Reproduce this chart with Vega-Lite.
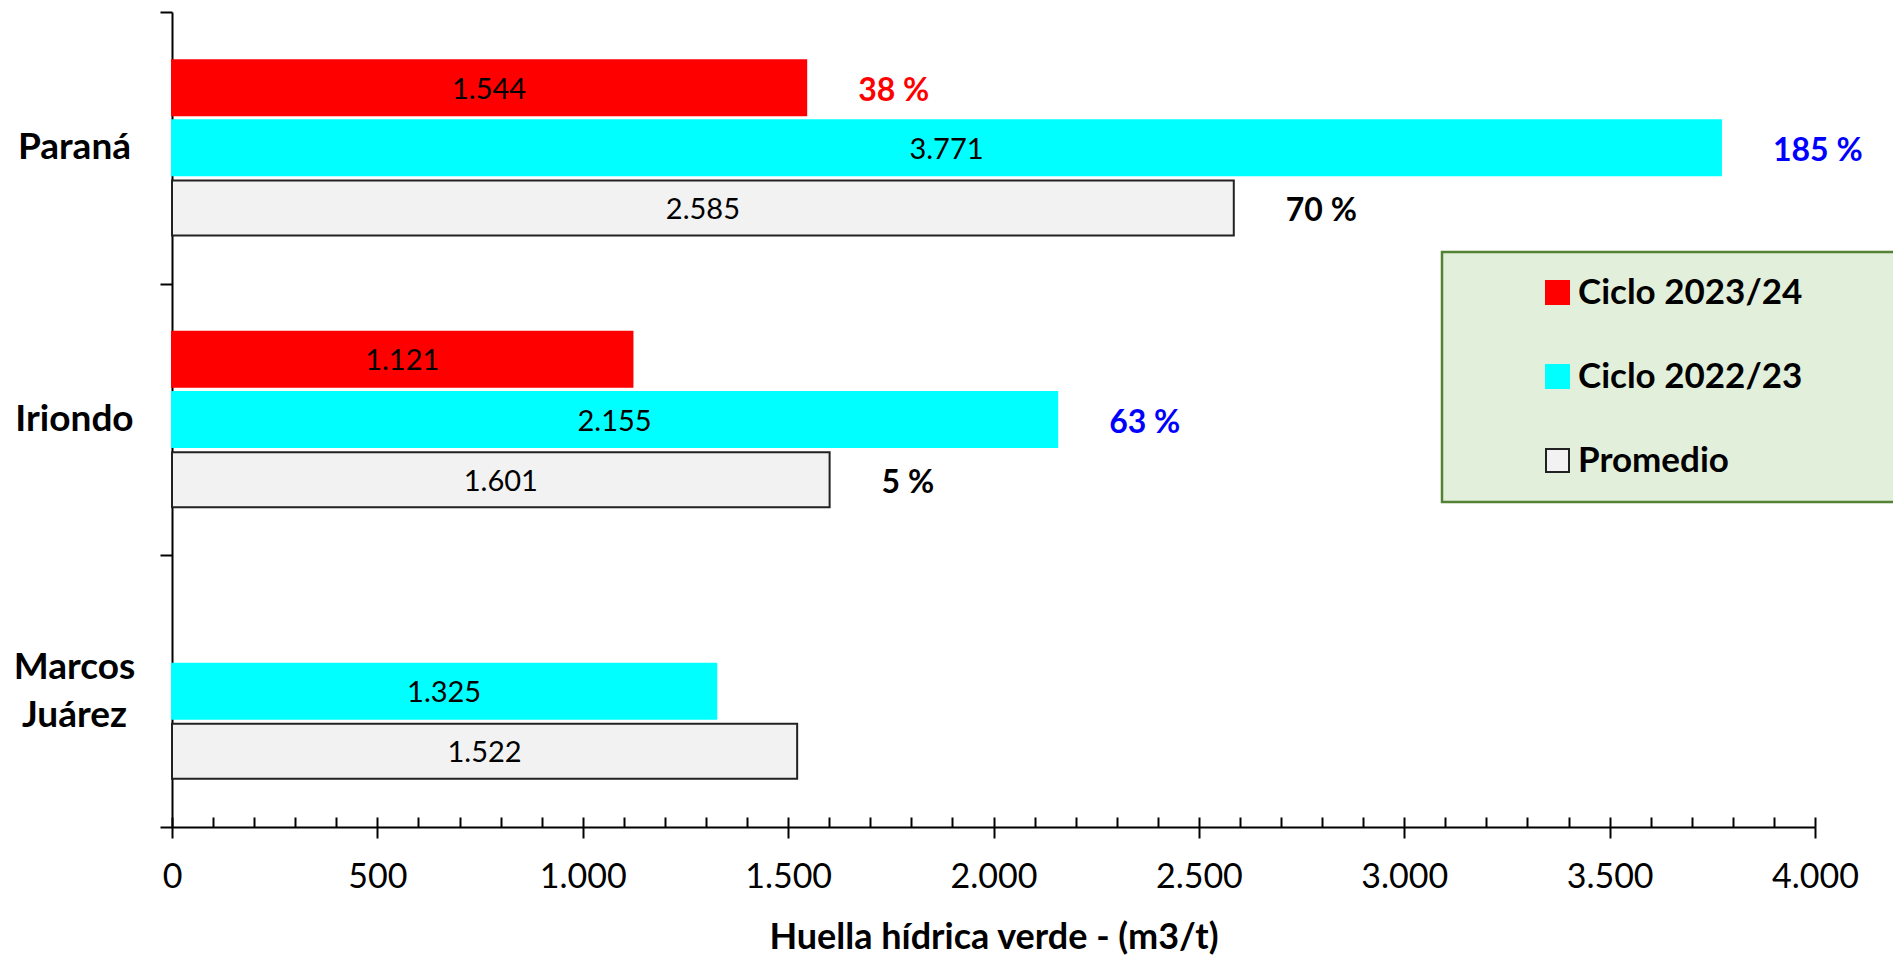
{
  "$schema": "https://vega.github.io/schema/vega-lite/v6.json",
  "autosize": {"type": "none"},
  "padding": {"left": 172, "top": 12, "right": 78, "bottom": 128},
  "width": 1643,
  "height": 815,
  "background": "white",
  "config": {
    "font": "Lato",
    "view": {"stroke": null},
    "axis": {"grid": false},
    "locale": {"number": {"decimal": ",", "thousands": ".", "grouping": [3], "currency": ["$", ""]}}
  },
  "data": {
    "values": [
      {"region": "Paraná", "serie": "Ciclo 2023/24", "value": 1544, "pct": "38 %"},
      {"region": "Paraná", "serie": "Ciclo 2022/23", "value": 3771, "pct": "185 %"},
      {"region": "Paraná", "serie": "Promedio", "value": 2585, "pct": "70 %"},
      {"region": "Iriondo", "serie": "Ciclo 2023/24", "value": 1121, "pct": null},
      {"region": "Iriondo", "serie": "Ciclo 2022/23", "value": 2155, "pct": "63 %"},
      {"region": "Iriondo", "serie": "Promedio", "value": 1601, "pct": "5 %"},
      {"region": "Marcos Juárez", "serie": "Ciclo 2022/23", "value": 1325, "pct": null},
      {"region": "Marcos Juárez", "serie": "Promedio", "value": 1522, "pct": null}
    ]
  },
  "encoding": {
    "y": {
      "field": "region", "type": "nominal",
      "sort": ["Paraná", "Iriondo", "Marcos Juárez"],
      "scale": {"paddingInner": 0, "paddingOuter": 0},
      "axis": {
        "title": null, "tickBand": "extent", "tickSize": 12, "tickWidth": 2, "tickColor": "black",
        "domainColor": "black", "domainWidth": 2,
        "labelFontSize": 37, "labelFontWeight": "bold", "labelColor": "black", "labelFont": "Lato",
        "labelPadding": 86, "labelAlign": "center", "labelLineHeight": 48,
        "labelOffset": {"condition": {"test": "datum.value == 'Marcos Juárez'", "value": -24}, "value": 0},
        "labelExpr": "datum.label == 'Marcos Juárez' ? ['Marcos', 'Juárez'] : datum.label"
      }
    },
    "yOffset": {
      "field": "serie", "type": "nominal",
      "sort": ["Ciclo 2023/24", "Ciclo 2022/23", "Promedio"],
      "scale": {"domain": ["Ciclo 2023/24", "Ciclo 2022/23", "Promedio"], "paddingInner": 0.085, "paddingOuter": 0.8}
    }
  },
  "layer": [
    {
      "mark": {"type": "bar", "strokeWidth": 2},
      "encoding": {
        "x": {
          "field": "value", "type": "quantitative",
          "scale": {"domain": [0, 4000], "nice": false},
          "axis": {
            "orient": "bottom", "values": [0, 500, 1000, 1500, 2000, 2500, 3000, 3500, 4000],
            "format": ",d", "tickSize": 11, "tickWidth": 2, "tickColor": "black",
            "domainColor": "black", "domainWidth": 2,
            "labelFontSize": 34, "labelColor": "black", "labelFont": "Lato", "labelPadding": 22,
            "labelFlush": false,
            "title": "Huella hídrica verde - (m3/t)", "titleFontSize": 36, "titleFontWeight": "bold",
            "titleColor": "black", "titleFont": "Lato", "titlePadding": 26
          }
        },
        "color": {
          "field": "serie", "type": "nominal",
          "scale": {"domain": ["Ciclo 2023/24", "Ciclo 2022/23", "Promedio"], "range": ["#FF0000", "#00FFFF", "#F2F2F2"]},
          "legend": {
            "orient": "none", "legendX": 1270, "legendY": 240,
            "title": " ", "titleOrient": "right", "titlePadding": 90, "titleFontSize": 10,
            "fillColor": "#E2EFDA", "strokeColor": "#548235",
            "padding": 23, "symbolOffset": 75, "labelOffset": 3,
            "symbolType": "square", "symbolSize": 529, "symbolStrokeWidth": 2,
            "labelFontSize": 35, "labelFontWeight": "bold", "labelFont": "Lato", "labelColor": "black",
            "rowPadding": 48, "labelLimit": 400,
            "encode": {"legend": {"update": {"strokeWidth": {"value": 2.5}}}}
          }
        },
        "stroke": {
          "field": "serie", "type": "nominal",
          "scale": {"domain": ["Ciclo 2023/24", "Ciclo 2022/23", "Promedio"], "range": ["#FF0000", "#00FFFF", "#222222"]},
          "legend": null
        }
      }
    },
    {
      "mark": {"type": "text", "fontSize": 29, "font": "Lato", "color": "black", "baseline": "middle", "align": "center", "dy": 2},
      "encoding": {
        "x": {"field": "value", "type": "quantitative", "scale": {"domain": [0, 8000], "nice": false}, "axis": null},
        "text": {"field": "value", "type": "quantitative", "format": ",d"}
      }
    },
    {
      "transform": [{"filter": "datum.pct != null"}],
      "mark": {"type": "text", "fontSize": 32, "font": "Lato", "fontWeight": "bold", "baseline": "middle", "align": "left", "dx": 52, "dy": 3},
      "encoding": {
        "x": {"field": "value", "type": "quantitative", "scale": {"domain": [0, 4000], "nice": false}, "axis": null},
        "text": {"field": "pct", "type": "nominal"},
        "color": {
          "field": "serie", "type": "nominal",
          "scale": {"domain": ["Ciclo 2023/24", "Ciclo 2022/23", "Promedio"], "range": ["#FF0000", "#0000FF", "#000000"]},
          "legend": null
        }
      }
    },
    {
      "mark": {"type": "point", "opacity": 0},
      "encoding": {
        "x": {
          "field": "value", "type": "quantitative",
          "scale": {"domain": [0, 4000], "nice": false},
          "axis": {
            "orient": "bottom",
            "values": [0, 100, 200, 300, 400, 500, 600, 700, 800, 900, 1000, 1100, 1200, 1300, 1400, 1500, 1600, 1700, 1800, 1900, 2000, 2100, 2200, 2300, 2400, 2500, 2600, 2700, 2800, 2900, 3000, 3100, 3200, 3300, 3400, 3500, 3600, 3700, 3800, 3900, 4000],
            "tickSize": -10, "tickWidth": 2, "tickColor": "black",
            "labels": false, "domain": false, "title": null
          }
        }
      }
    }
  ],
  "resolve": {"scale": {"x": "independent", "color": "independent", "stroke": "independent"}}
}
